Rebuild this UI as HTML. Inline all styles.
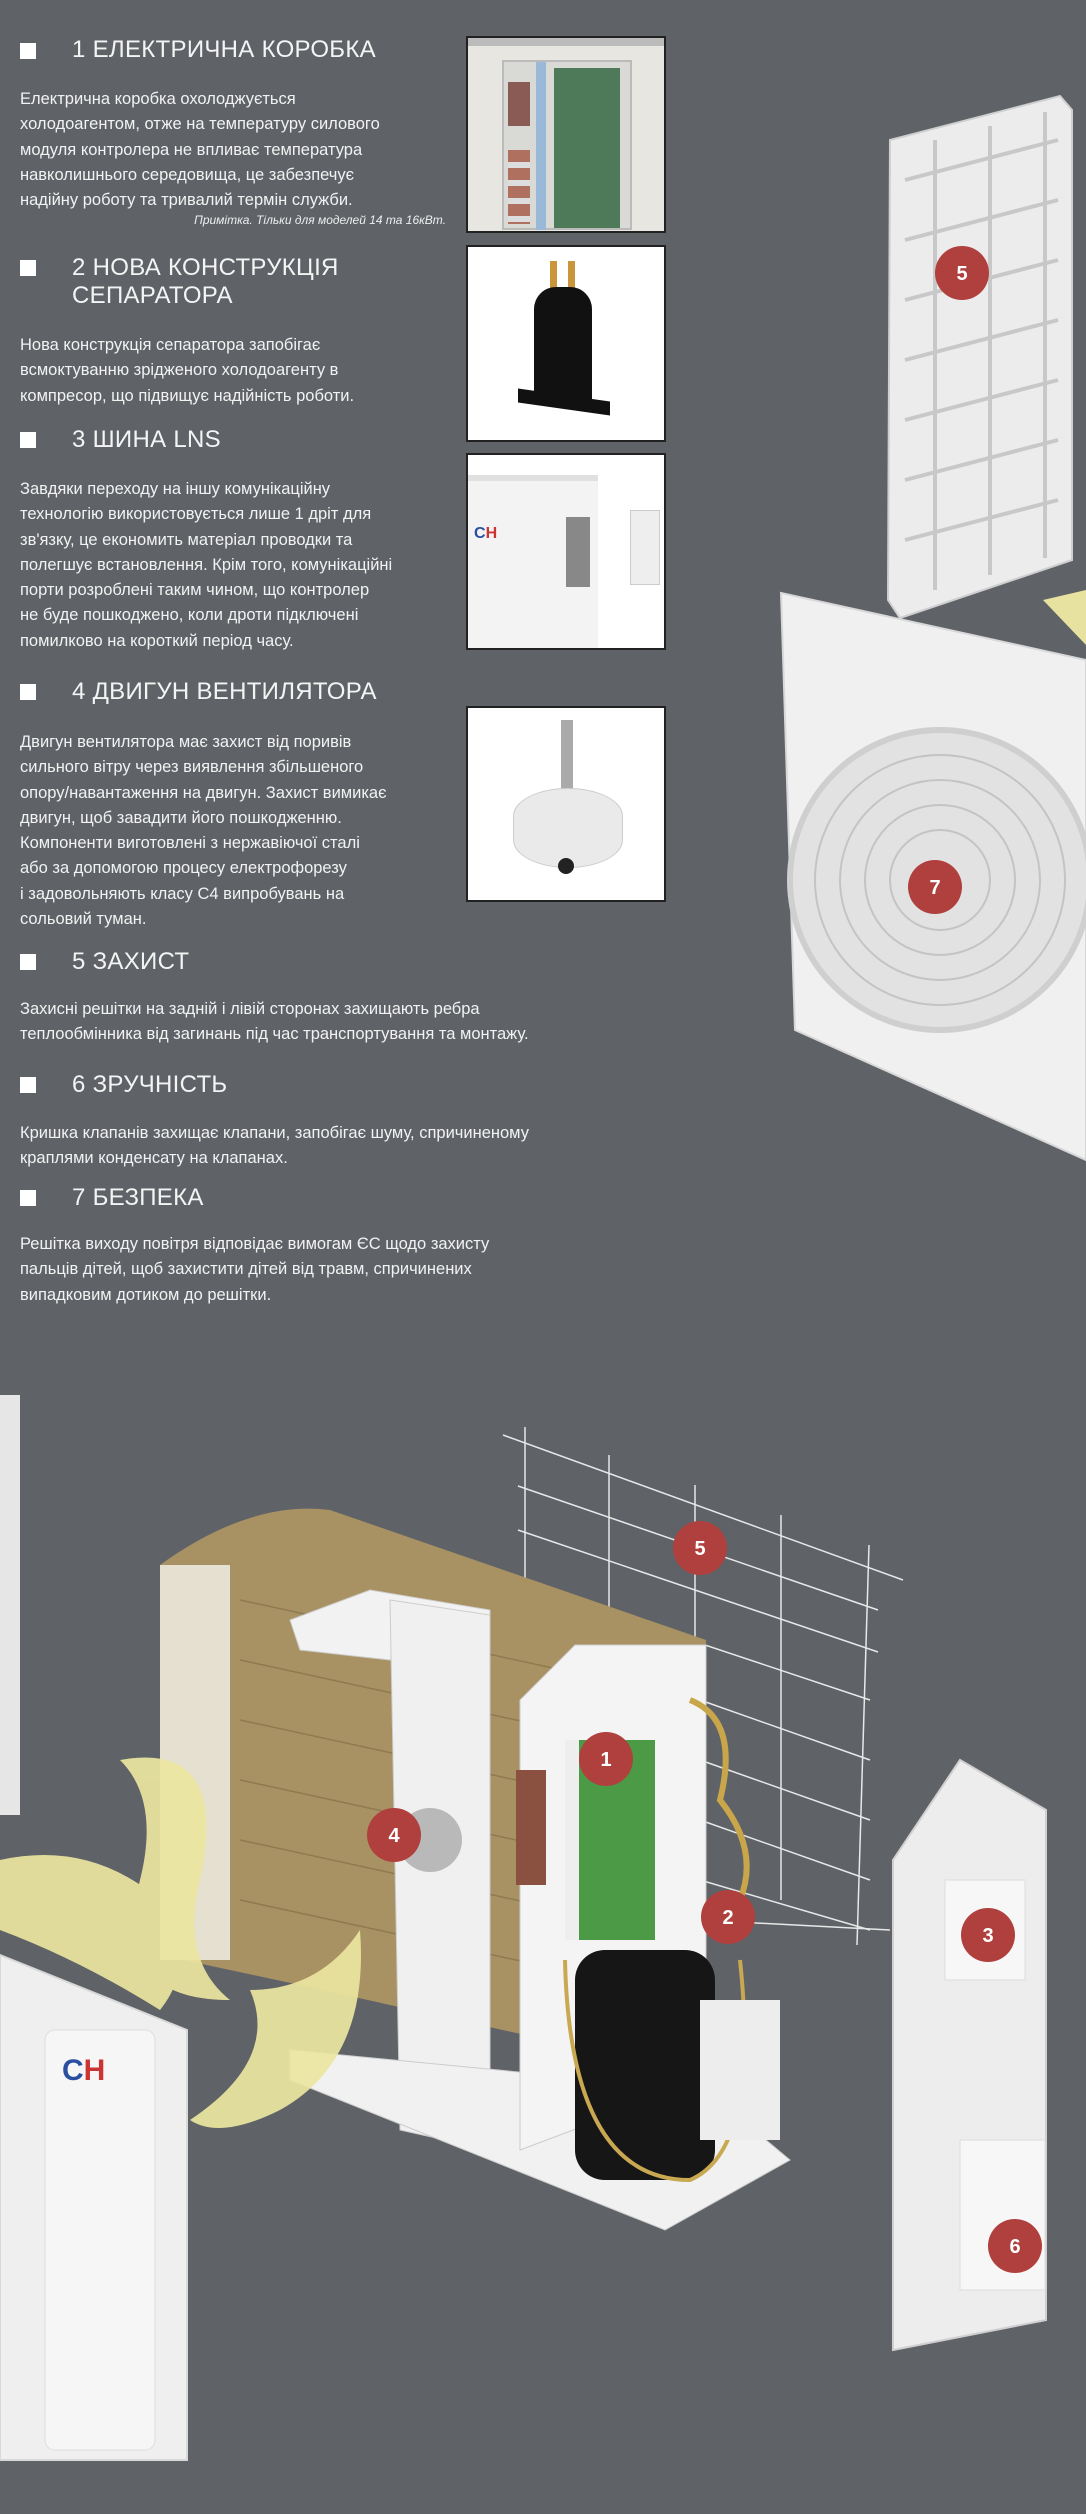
<!DOCTYPE html>
<html><head><meta charset="utf-8"><style>
*{margin:0;padding:0;box-sizing:border-box}
html,body{width:1086px;height:2514px;background:#5f6368;overflow:hidden}
body{position:relative;font-family:"Liberation Sans","DejaVu Sans",sans-serif;color:#fff}
.h{position:absolute;left:72px;font-size:24px;font-weight:300;line-height:28px;letter-spacing:0.3px;color:#f4f4f4}
.sq{position:absolute;left:20px;width:16px;height:16px;background:#fff}
.t{position:absolute;left:20px;font-size:16.5px;line-height:25.3px;color:#f2f2f2;width:440px}
.box{position:absolute;left:466px;width:200px;border:2px solid #222;background:#fff;overflow:hidden}
.note{position:absolute;left:140px;width:306px;text-align:right;font-style:italic;font-size:12px;top:213px;color:#eee}
</style></head><body>

<div class="sq" style="top:43px"></div><div class="h" style="top:36px">1 ЕЛЕКТРИЧНА КОРОБКА</div>
<div class="t" style="top:87px">Електрична коробка охолоджується<br>холодоагентом, отже на температуру силового<br>модуля контролера не впливає температура<br>навколишнього середовища, це забезпечує<br>надійну роботу та тривалий термін служби.</div>
<div class="note">Примітка. Тільки для моделей 14 та 16кВт.</div>

<div class="sq" style="top:260px"></div><div class="h" style="top:254px">2 НОВА КОНСТРУКЦІЯ<br>СЕПАРАТОРА</div>
<div class="t" style="top:333px">Нова конструкція сепаратора запобігає<br>всмоктуванню зрідженого холодоагенту в<br>компресор, що підвищує надійність роботи.</div>

<div class="sq" style="top:432px"></div><div class="h" style="top:426px">3 ШИНА LNS</div>
<div class="t" style="top:477px">Завдяки переходу на іншу комунікаційну<br>технологію використовується лише 1 дріт для<br>зв'язку, це економить матеріал проводки та<br>полегшує встановлення. Крім того, комунікаційні<br>порти розроблені таким чином, що контролер<br>не буде пошкоджено, коли дроти підключені<br>помилково на короткий період часу.</div>

<div class="sq" style="top:684px"></div><div class="h" style="top:678px">4 ДВИГУН ВЕНТИЛЯТОРА</div>
<div class="t" style="top:730px">Двигун вентилятора має захист від поривів<br>сильного вітру через виявлення збільшеного<br>опору/навантаження на двигун. Захист вимикає<br>двигун, щоб завадити його пошкодженню.<br>Компоненти виготовлені з нержавіючої сталі<br>або за допомогою процесу електрофорезу<br>і задовольняють класу С4 випробувань на<br>сольовий туман.</div>

<div class="sq" style="top:954px"></div><div class="h" style="top:948px">5 ЗАХИСТ</div>
<div class="t" style="top:997px;width:560px">Захисні решітки на задній і лівій сторонах захищають ребра<br>теплообмінника від загинань під час транспортування та монтажу.</div>

<div class="sq" style="top:1077px"></div><div class="h" style="top:1071px">6 ЗРУЧНІСТЬ</div>
<div class="t" style="top:1121px;width:560px">Кришка клапанів захищає клапани, запобігає шуму, спричиненому<br>краплями конденсату на клапанах.</div>

<div class="sq" style="top:1190px"></div><div class="h" style="top:1184px">7 БЕЗПЕКА</div>
<div class="t" style="top:1232px;width:560px">Решітка виходу повітря відповідає вимогам ЄС щодо захисту<br>пальців дітей, щоб захистити дітей від травм, спричинених<br>випадковим дотиком до решітки.</div>

<!-- image boxes -->
<div class="box" style="top:36px;height:197px;background:#e8e6e0">
 <div style="position:absolute;left:34px;top:22px;width:130px;height:170px;background:#d9d9d6;border:2px solid #bbb"></div>
 <div style="position:absolute;left:68px;top:24px;width:10px;height:168px;background:#9ab8d8"></div>
 <div style="position:absolute;left:86px;top:30px;width:66px;height:160px;background:#4f7a5a"></div>
 <div style="position:absolute;left:40px;top:44px;width:22px;height:44px;background:#8a5a55"></div>
 <div style="position:absolute;left:40px;top:112px;width:22px;height:74px;background:repeating-linear-gradient(#b07060 0 12px,#ddd 12px 18px)"></div>
 <div style="position:absolute;left:0;top:0;width:200px;height:8px;background:#bbb"></div>
</div>
<div class="box" style="top:245px;height:197px">
 <div style="position:absolute;left:82px;top:14px;width:7px;height:34px;background:#c9963c"></div>
 <div style="position:absolute;left:100px;top:14px;width:7px;height:34px;background:#c9963c"></div>
 <div style="position:absolute;left:66px;top:40px;width:58px;height:118px;background:#111;border-radius:22px 22px 6px 6px"></div>
 <div style="position:absolute;left:50px;top:148px;width:92px;height:14px;background:#111;transform:skewY(8deg)"></div>
</div>
<div class="box" style="top:453px;height:197px">
 <div style="position:absolute;left:0;top:20px;width:130px;height:177px;background:#f3f3f3;border-top:6px solid #e0e0e0"></div>
 <div style="position:absolute;left:6px;top:70px;font:bold 16px 'Liberation Sans';color:#2850a0">C<span style="color:#c33">H</span></div>
 <div style="position:absolute;left:98px;top:62px;width:24px;height:70px;background:#888"></div>
 <div style="position:absolute;left:162px;top:55px;width:30px;height:75px;background:#eee;border:1px solid #ccc"></div>
</div>
<div class="box" style="top:706px;height:196px">
 <div style="position:absolute;left:93px;top:12px;width:12px;height:70px;background:#aaa"></div>
 <div style="position:absolute;left:45px;top:80px;width:110px;height:80px;background:#eaeaea;border-radius:50%/35%;border:1px solid #ccc"></div>
 <div style="position:absolute;left:90px;top:150px;width:16px;height:16px;background:#222;border-radius:50%"></div>
</div>

<svg width="1086" height="2514" style="position:absolute;left:0;top:0">
 <!-- top-right grille panel -->
 <polygon points="890,140 1060,96 1072,110 1072,560 900,618 888,600" fill="#ececec" stroke="#cfcfcf" stroke-width="2"/>
 <g stroke="#c8c8c8" stroke-width="4" fill="none">
  <line x1="935" y1="140" x2="935" y2="590"/><line x1="990" y1="126" x2="990" y2="575"/><line x1="1045" y1="112" x2="1045" y2="558"/>
  <line x1="905" y1="180" x2="1058" y2="140"/><line x1="905" y1="240" x2="1058" y2="200"/><line x1="905" y1="300" x2="1058" y2="260"/>
  <line x1="905" y1="360" x2="1058" y2="320"/><line x1="905" y1="420" x2="1058" y2="380"/><line x1="905" y1="480" x2="1058" y2="440"/><line x1="905" y1="540" x2="1058" y2="500"/>
 </g>
 <polygon points="1043,600 1086,590 1086,645" fill="#e8e2a0"/>
 <!-- fan panel -->
 <polygon points="781,593 1086,660 1086,1160 795,1030" fill="#f0f0f0" stroke="#d8d8d8" stroke-width="2"/>
 <circle cx="940" cy="880" r="150" fill="#e2e2e2" stroke="#cfcfcf" stroke-width="6"/>
 <g fill="none" stroke="#c4c4c4" stroke-width="2">
  <circle cx="940" cy="880" r="125"/><circle cx="940" cy="880" r="100"/><circle cx="940" cy="880" r="75"/><circle cx="940" cy="880" r="50"/>
 </g>
 <!-- left edge panel -->
 <rect x="0" y="1395" width="20" height="420" fill="#e6e6e6"/>
 <!-- wire grid -->
 <g stroke="#e8e8e8" stroke-width="1.5" fill="none">
  <line x1="503" y1="1435" x2="903" y2="1580"/><line x1="518" y1="1486" x2="878" y2="1610"/><line x1="518" y1="1530" x2="878" y2="1652"/>
  <line x1="690" y1="1640" x2="870" y2="1700"/><line x1="700" y1="1700" x2="870" y2="1760"/><line x1="700" y1="1760" x2="870" y2="1820"/><line x1="700" y1="1820" x2="870" y2="1880"/><line x1="700" y1="1880" x2="870" y2="1930"/><line x1="700" y1="1920" x2="890" y2="1930"/>
  <line x1="525" y1="1427" x2="525" y2="1580"/><line x1="609" y1="1455" x2="609" y2="1620"/><line x1="695" y1="1485" x2="695" y2="1640"/><line x1="781" y1="1515" x2="781" y2="1900"/><line x1="869" y1="1545" x2="857" y2="1945"/>
 </g>
 <!-- coil -->
 <path d="M160,1565 Q250,1500 330,1510 L706,1640 L706,2075 L300,1985 L160,1955 Z" fill="#a89263"/>
 <g stroke="#8d7a50" stroke-width="1.5">
  <line x1="240" y1="1600" x2="700" y2="1700"/><line x1="240" y1="1660" x2="700" y2="1760"/><line x1="240" y1="1720" x2="700" y2="1820"/><line x1="240" y1="1780" x2="700" y2="1880"/><line x1="240" y1="1840" x2="700" y2="1940"/><line x1="240" y1="1900" x2="700" y2="2000"/>
 </g>
 <rect x="160" y="1565" width="70" height="395" fill="#e6e0d0"/>
 <!-- frame -->
 <polygon points="290,1620 370,1590 490,1610 490,1650 390,1660 300,1650" fill="#f2f2f2" stroke="#ccc"/>
 <polygon points="390,1600 490,1615 490,2150 400,2130" fill="#f0f0f0" stroke="#ccc"/>
 <circle cx="430" cy="1840" r="32" fill="#b9b9b9"/>
 <!-- base -->
 <polygon points="290,2050 706,2090 790,2160 665,2230 290,2080" fill="#f1f1f1" stroke="#ccc"/>
 <!-- electrical box -->
 <polygon points="520,1700 575,1645 706,1645 706,2080 520,2150" fill="#f4f4f4" stroke="#ccc"/>
 <rect x="565" y="1740" width="90" height="200" fill="#4c9a46"/>
 <rect x="565" y="1740" width="14" height="200" fill="#eee"/>
 <rect x="516" y="1770" width="30" height="115" fill="#8a5040"/>
 <!-- compressor -->
 <rect x="575" y="1950" width="140" height="230" rx="30" fill="#161616"/>
 <path d="M565,1960 Q570,2180 690,2180 Q760,2150 740,1960" fill="none" stroke="#c8a850" stroke-width="4"/>
 <rect x="700" y="2000" width="80" height="140" fill="#ededed"/>
 <!-- pipes right -->
 <path d="M690,1700 Q740,1720 720,1800 Q760,1850 740,1900" fill="none" stroke="#c9a64a" stroke-width="6"/>
 <!-- fan blades -->
 <g fill="#ece6a0" opacity="0.92">
  <path d="M120,1760 Q230,1740 200,1880 Q180,1960 230,2000 Q110,2000 140,1880 Q160,1800 120,1760Z"/>
  <path d="M0,1860 Q90,1840 160,1900 Q200,1960 160,2010 Q80,1960 0,1930Z"/>
  <path d="M360,1930 Q370,2060 280,2110 Q220,2140 190,2120 Q280,2060 250,1990 Q320,1990 360,1930Z"/>
 </g>
 <!-- front panel left -->
 <polygon points="0,1955 187,2030 187,2460 0,2460" fill="#efefef" stroke="#d8d8d8" stroke-width="2"/>
 <rect x="45" y="2030" width="110" height="420" rx="10" fill="#f6f6f6" stroke="#ddd"/>
 <text x="62" y="2080" font-family="Liberation Sans" font-weight="bold" font-size="30" fill="#2a4fa0">C<tspan fill="#c33">H</tspan></text>
 <!-- right side panel -->
 <polygon points="893,1860 960,1760 1046,1810 1046,2320 893,2350" fill="#ededed" stroke="#d0d0d0" stroke-width="2"/>
 <rect x="945" y="1880" width="80" height="100" fill="#f7f7f7" stroke="#ddd"/>
 <rect x="960" y="2140" width="85" height="150" fill="#f7f7f7" stroke="#ddd"/>
 <!-- badges -->
 <g fill="#b0403d">
  <circle cx="962" cy="273" r="27"/><circle cx="935" cy="887" r="27"/>
  <circle cx="700" cy="1548" r="27"/><circle cx="606" cy="1759" r="27"/><circle cx="394" cy="1835" r="27"/>
  <circle cx="728" cy="1917" r="27"/><circle cx="988" cy="1935" r="27"/><circle cx="1015" cy="2246" r="27"/>
 </g>
 <g font-family="Liberation Sans" font-weight="bold" font-size="20" fill="#fff" text-anchor="middle">
  <text x="962" y="280">5</text><text x="935" y="894">7</text><text x="700" y="1555">5</text><text x="606" y="1766">1</text>
  <text x="394" y="1842">4</text><text x="728" y="1924">2</text><text x="988" y="1942">3</text><text x="1015" y="2253">6</text>
 </g>
</svg>
</body></html>
